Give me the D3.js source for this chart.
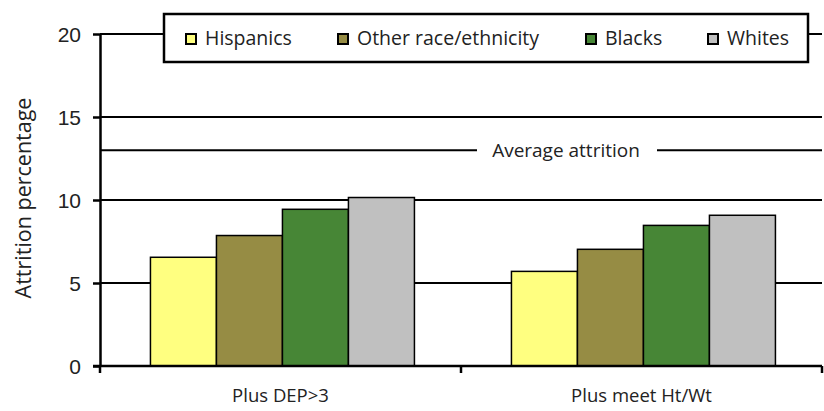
<!DOCTYPE html>
<html>
<head>
<meta charset="utf-8">
<script src="https://cdn.jsdelivr.net/npm/d3@7"></script>
<style>
  body { margin: 0; background: #fff; }
  svg { display: block; font-family: "Open Sans", Lato, sans-serif; }
</style>
</head>
<body>
<div class="container"></div>
<script>
const groups = ["Plus DEP>3", "Plus meet Ht/Wt"]
const series = ["Hispanics", "Other race/ethnicity", "Blacks", "Whites"]
const colors = ["#ffff80", "#968c44", "#478636", "#c0c0c0"]
const hispanics = [6.55, 5.7]
const other = [7.86, 7.03]
const blacks = [9.44, 8.47]
const whites = [10.15, 9.08]
const yTicks = [0, 5, 10, 15, 20]
const average = 13
const avgLabel = "Average attrition"
const yTitle = "Attrition percentage"

const values = [hispanics, other, blacks, whites]
const dataset = groups.map((g, gi) => series.map((s, si) => ({ group: g, name: s, value: values[si][gi], color: colors[si] })))

const w = 824
const h = 411
const padLeft = 100
const padRight = 822
const padTop = 34
const padBottom = 366

const svg = d3.select(".container")
              .append("svg")
              .attr("width", w)
              .attr("height", h)

const x0 = d3.scaleBand()
             .domain(groups)
             .range([padLeft, padRight])
const x1 = d3.scaleBand()
             .domain(series)
             .range([0, x0.bandwidth()])
             .paddingOuter(0.735)
             .align(0.52)
const y = d3.scaleLinear()
            .domain([0, 20])
            .range([padBottom, padTop])

// grid lines
svg.append("g")
   .selectAll("line")
   .data(yTicks.filter(d => d > 0))
   .enter()
   .append("line")
   .attr("x1", padLeft)
   .attr("x2", padRight)
   .attr("y1", d => y(d))
   .attr("y2", d => y(d))
   .attr("stroke", "#000")
   .attr("stroke-width", 2)

// average line with label
svg.append("line")
   .attr("x1", padLeft).attr("x2", padRight)
   .attr("y1", y(average)).attr("y2", y(average))
   .attr("stroke", "#000").attr("stroke-width", 2)
svg.append("rect")
   .attr("x", 477).attr("y", y(average) - 12)
   .attr("width", 180).attr("height", 24)
   .attr("fill", "#fff")
svg.append("text")
   .attr("x", 566).attr("y", y(average) + 7)
   .attr("text-anchor", "middle")
   .attr("font-size", 19)
   .attr("fill", "#222")
   .text(avgLabel)

// bars
svg.append("g")
   .selectAll("g")
   .data(dataset)
   .enter()
   .append("g")
   .attr("transform", d => "translate(" + x0(d[0].group) + ",0)")
   .selectAll("rect")
   .data(d => d)
   .enter()
   .append("rect")
   .attr("x", d => x1(d.name))
   .attr("y", d => y(d.value))
   .attr("width", x1.bandwidth())
   .attr("height", d => y(0) - y(d.value))
   .attr("fill", d => d.color)
   .attr("stroke", "#000")
   .attr("stroke-width", 1.5)

// y axis
const yAxis = d3.axisLeft(y).tickValues(yTicks).tickSize(7).tickSizeOuter(0).tickFormat(d3.format("d"))
const gy = svg.append("g")
   .attr("transform", "translate(" + padLeft + ",0)")
   .call(yAxis)
gy.select(".domain").attr("stroke-width", 2.5)
gy.selectAll(".tick line").attr("stroke-width", 2.5)
gy.selectAll(".tick text").attr("font-size", 21).attr("fill", "#222").attr("x", -19).attr("dy", "0.35em")

// x axis
const gx = svg.append("g")
   .attr("transform", "translate(0," + padBottom + ")")
gx.append("line")
  .attr("x1", padLeft - 7).attr("x2", padRight)
  .attr("y1", 0).attr("y2", 0)
  .attr("stroke", "#000").attr("stroke-width", 2.5)
gx.selectAll(".sep")
  .data([padLeft, x0(groups[1]), padRight])
  .enter()
  .append("line")
  .attr("x1", d => d).attr("x2", d => d)
  .attr("y1", 0).attr("y2", 7)
  .attr("stroke", "#000").attr("stroke-width", 2.5)
gx.selectAll("text")
  .data(groups)
  .enter()
  .append("text")
  .attr("x", d => x0(d) + x0.bandwidth() / 2)
  .attr("y", 36)
  .attr("text-anchor", "middle")
  .attr("font-size", 18.5)
  .attr("fill", "#222")
  .text(d => d)

// y title
svg.append("text")
   .attr("transform", "translate(31," + 198 + ") rotate(-90)")
   .attr("text-anchor", "middle")
   .attr("font-size", 21.5)
   .attr("fill", "#222")
   .text(yTitle)

// legend
const legend = svg.append("g")
legend.append("rect")
      .attr("x", 164).attr("y", 14)
      .attr("width", 644).attr("height", 48)
      .attr("fill", "#fff")
      .attr("stroke", "#000")
      .attr("stroke-width", 2.5)
const legendX = [186, 338, 586, 708]
const item = legend.selectAll(".item")
      .data(series)
      .enter()
      .append("g")
      .attr("transform", (d, i) => "translate(" + legendX[i] + ",34)")
item.append("rect")
    .attr("width", 10).attr("height", 10)
    .attr("fill", (d, i) => colors[i])
    .attr("stroke", "#000")
    .attr("stroke-width", 2)
item.append("text")
    .attr("x", 19).attr("y", 11)
    .attr("font-size", 19.5)
    .attr("fill", "#222")
    .text(d => d)
</script>
</body>
</html>
